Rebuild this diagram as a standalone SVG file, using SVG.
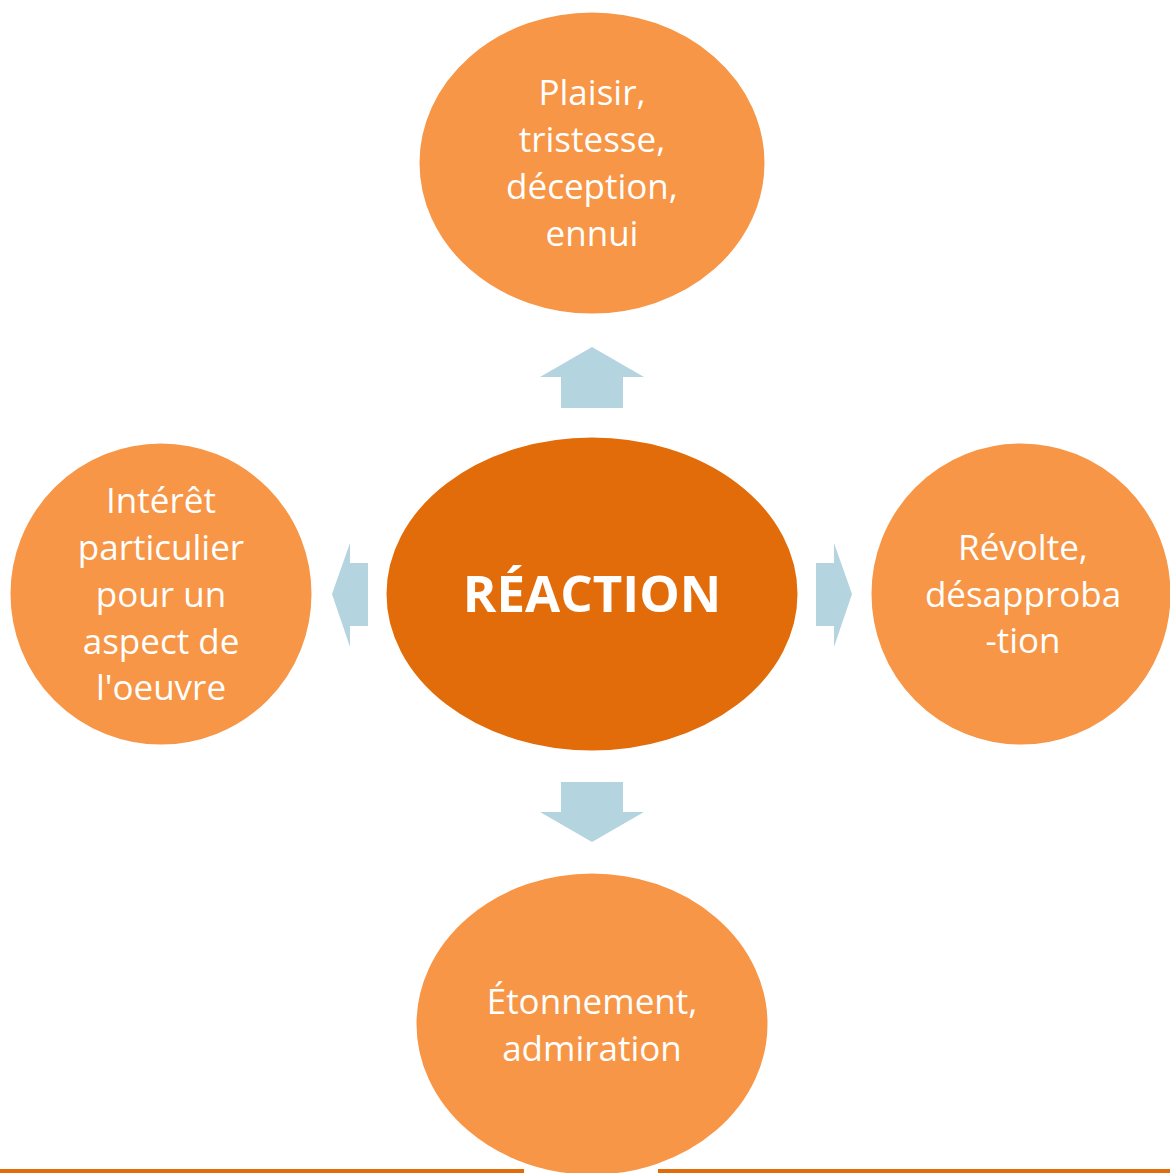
<svg xmlns="http://www.w3.org/2000/svg" width="1170" height="1173" viewBox="0 0 1170 1173">
<style>
.node{fill:#F79646;stroke:#FFFFFF;stroke-width:3}
.center{fill:#E36C0A;stroke:#FFFFFF;stroke-width:3}
.t{fill:#FFFFFF;font-family:"Open Sans","Liberation Sans",sans-serif;font-size:35px;text-anchor:middle}
.tc{fill:#FFFFFF;font-family:"Open Sans","Liberation Sans",sans-serif;font-size:51px;font-weight:bold;text-anchor:middle}
.arr{fill:#B4D4E0}
.base{stroke:#E36C0A;stroke-width:4}
</style>
<rect width="1170" height="1173" fill="#FFFFFF"/>
<line class="base" x1="0" y1="1171" x2="524" y2="1171"/>
<line class="base" x1="658" y1="1171" x2="1170" y2="1171"/>
<g id="connectors">
<polygon class="arr" points="592,347 644,377 623,377 623,408 561,408 561,377 540,377"/>
<polygon class="arr" points="592,842 644,812 623,812 623,782 561,782 561,812 540,812"/>
<polygon class="arr" points="332,594 350,543 350,563 368,563 368,626 350,626 350,647"/>
<polygon class="arr" points="852,594 834,543 834,563 816,563 816,626 834,626 834,647"/>
</g>
<g id="node-center">
<ellipse class="center" cx="592" cy="594" rx="207" ry="158"/>
<text class="tc" x="592" y="612">RÉACTION</text>
</g>
<g id="node-top">
<ellipse class="node" cx="592" cy="163" rx="174" ry="152"/>
<text class="t" x="592" y="105">Plaisir,</text>
<text class="t" x="592" y="152">tristesse,</text>
<text class="t" x="592" y="199">déception,</text>
<text class="t" x="592" y="246">ennui</text>
</g>
<g id="node-left">
<ellipse class="node" cx="161" cy="594" rx="152" ry="152"/>
<text class="t" x="161" y="513">Intérêt</text>
<text class="t" x="161" y="560">particulier</text>
<text class="t" x="161" y="607">pour un</text>
<text class="t" x="161" y="654">aspect de</text>
<text class="t" x="161" y="700">l'oeuvre</text>
</g>
<g id="node-right">
<ellipse class="node" cx="1021" cy="594" rx="151" ry="152"/>
<text class="t" x="1023" y="560">Révolte,</text>
<text class="t" x="1023" y="607">désapproba</text>
<text class="t" x="1023" y="653">-tion</text>
</g>
<g id="node-bottom">
<ellipse class="node" cx="592" cy="1024" rx="177" ry="152"/>
<text class="t" x="592" y="1014">Étonnement,</text>
<text class="t" x="592" y="1061">admiration</text>
</g>
</svg>
